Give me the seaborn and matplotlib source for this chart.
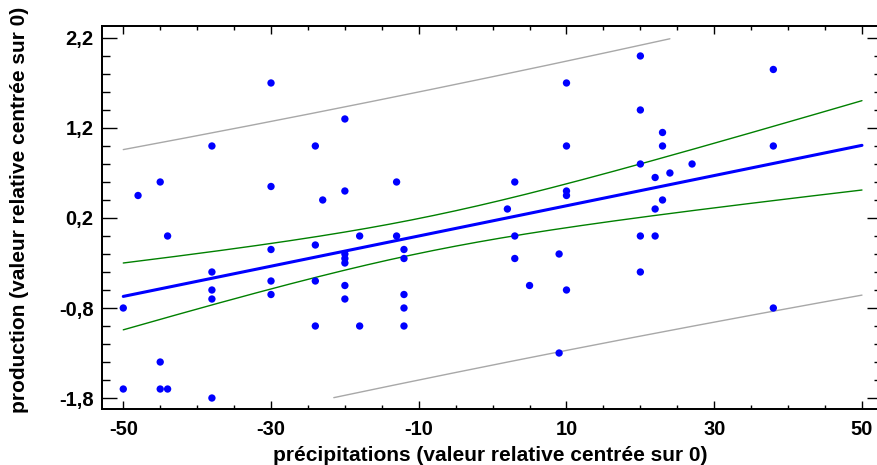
import numpy as np
import pandas as pd
import seaborn as sns
import matplotlib
matplotlib.use("Agg")
import matplotlib.pyplot as plt
from matplotlib.ticker import MultipleLocator, FixedLocator

# ---- data ----
precip = [-50, -50, -48, -45, -45, -45, -44, -44, -38, -38, -38, -38, -38,
          -30, -30, -30, -30, -30, -24, -24, -24, -24, -23,
          -20, -20, -20, -20, -20, -20, -20, -18, -18,
          -13, -13, -12, -12, -12, -12, -12,
          2, 3, 3, 3, 5, 9, 9, 10, 10, 10, 10, 10,
          20, 20, 20, 20, 20, 22, 22, 22, 23, 23, 23, 24, 27,
          38, 38, 38]
production = [-0.8, -1.7, 0.45, 0.6, -1.4, -1.7, 0.0, -1.7, 1.0, -0.4, -0.6, -0.7, -1.8,
              1.7, 0.55, -0.15, -0.5, -0.65, 1.0, -0.1, -0.5, -1.0, 0.4,
              1.3, 0.5, -0.2, -0.25, -0.3, -0.55, -0.7, 0.0, -1.0,
              0.6, 0.0, -0.15, -0.25, -0.65, -0.8, -1.0,
              0.3, 0.6, 0.0, -0.25, -0.55, -0.2, -1.3, 1.7, 1.0, 0.5, 0.45, -0.6,
              2.0, 1.4, 0.8, 0.0, -0.4, 0.65, 0.3, 0.0, 1.15, 1.0, 0.4, 0.7, 0.8,
              1.85, 1.0, -0.8]
x_ticks = [-50, -30, -10, 10, 30, 50]
x_tick_labels = ["-50", "-30", "-10", "10", "30", "50"]
y_ticks = [-1.8, -0.8, 0.2, 1.2, 2.2]
y_tick_labels = ["-1,8", "-0,8", "0,2", "1,2", "2,2"]
x_label = "précipitations (valeur relative centrée sur 0)"
y_label = "production (valeur relative centrée sur 0)"

df = pd.DataFrame({"precip": precip, "production": production})

# ---- regression with confidence and prediction bands ----
x = np.asarray(precip, float)
y = np.asarray(production, float)
n = len(x)
b1, b0 = np.polyfit(x, y, 1)
resid = y - (b0 + b1 * x)
s = np.sqrt(np.sum(resid ** 2) / (n - 2))
xm = x.mean()
sxx = np.sum((x - xm) ** 2)
t = 1.997  # Student t, 95 %, df = n-2
grid = np.linspace(-50, 50, 201)
fit = b0 + b1 * grid
se_mean = s * np.sqrt(1 / n + (grid - xm) ** 2 / sxx)
se_pred = s * np.sqrt(1 + 1 / n + (grid - xm) ** 2 / sxx)
ymin, ymax = -1.8, 2.2

def clip(v):
    v = v.copy()
    v[(v < ymin - 1e-9) | (v > ymax + 1e-9)] = np.nan
    return v

bands = pd.DataFrame({
    "x": grid,
    "fit": fit,
    "ci_lo": fit - t * se_mean,
    "ci_hi": fit + t * se_mean,
    "pi_lo": clip(fit - t * se_pred),
    "pi_hi": clip(fit + t * se_pred),
})

# ---- figure ----
sns.set_style("white")
plt.rcParams["font.family"] = ["Liberation Sans", "DejaVu Sans"]
plt.rcParams["text.color"] = "black"
plt.rcParams["axes.labelcolor"] = "black"
plt.rcParams["xtick.color"] = "black"
plt.rcParams["ytick.color"] = "black"
fig = plt.figure(figsize=(8.78, 4.65), dpi=100)
ax = fig.add_axes([102 / 878, 56 / 465, 776 / 878, 383 / 465])

for col, colr, lw in [("pi_lo", "#a8a8a8", 1.0), ("pi_hi", "#a8a8a8", 1.0),
                      ("ci_lo", "#008000", 1.0), ("ci_hi", "#008000", 1.0)]:
    sns.lineplot(data=bands, x="x", y=col, ax=ax, color=colr, lw=lw, zorder=2)
sns.lineplot(data=bands, x="x", y="fit", ax=ax, color="#0000ff", lw=2.2, zorder=3)
sns.scatterplot(data=df, x="precip", y="production", ax=ax, color="#0000ff",
                s=28, edgecolor="none", zorder=4)

ax.set_xlim(-52.88, 52.17)
ax.set_ylim(-1.922, 2.333)

ax.xaxis.set_major_locator(FixedLocator(x_ticks))
ax.set_xticklabels(x_tick_labels)
ax.xaxis.set_minor_locator(MultipleLocator(5))
ax.yaxis.set_major_locator(FixedLocator(y_ticks))
ax.set_yticklabels(y_tick_labels)
ax.yaxis.set_minor_locator(FixedLocator(np.arange(-1.8, 2.21, 0.2)))

ax.tick_params(axis="x", which="both", direction="in", top=True, bottom=True,
               width=1.0, color="black", labelcolor="black", labelsize=14.5, pad=8)
ax.tick_params(axis="x", which="major", length=6)
ax.tick_params(axis="x", which="minor", length=3)
ax.tick_params(axis="y", which="both", direction="in", left=True, right=False,
               width=1.0, color="black", labelcolor="black", labelsize=14.5, pad=6)
ax.tick_params(axis="y", which="major", length=11)
ax.tick_params(axis="y", which="minor", length=6)
for lab in ax.get_xticklabels() + ax.get_yticklabels():
    lab.set_fontweight("bold")

# right-hand ticks
ax2 = ax.twinx()
ax2.set_ylim(ax.get_ylim())
ax2.yaxis.set_major_locator(FixedLocator(y_ticks))
ax2.yaxis.set_minor_locator(FixedLocator(np.arange(-1.8, 2.21, 0.2)))
ax2.tick_params(axis="y", which="both", direction="in", labelright=False,
                width=1.0, color="black")
ax2.tick_params(axis="y", which="major", length=8)
ax2.tick_params(axis="y", which="minor", length=3)

for a in (ax, ax2):
    for sp in a.spines.values():
        sp.set_color("black")
        sp.set_linewidth(1.3)

ax.set_xlabel(x_label, fontsize=15, fontweight="bold", labelpad=5, color="black")
ax.set_ylabel(y_label, fontsize=15, fontweight="bold", color="black")
ax.yaxis.set_label_coords(-0.094, 0.52)

fig.savefig("out.png", dpi=100)
